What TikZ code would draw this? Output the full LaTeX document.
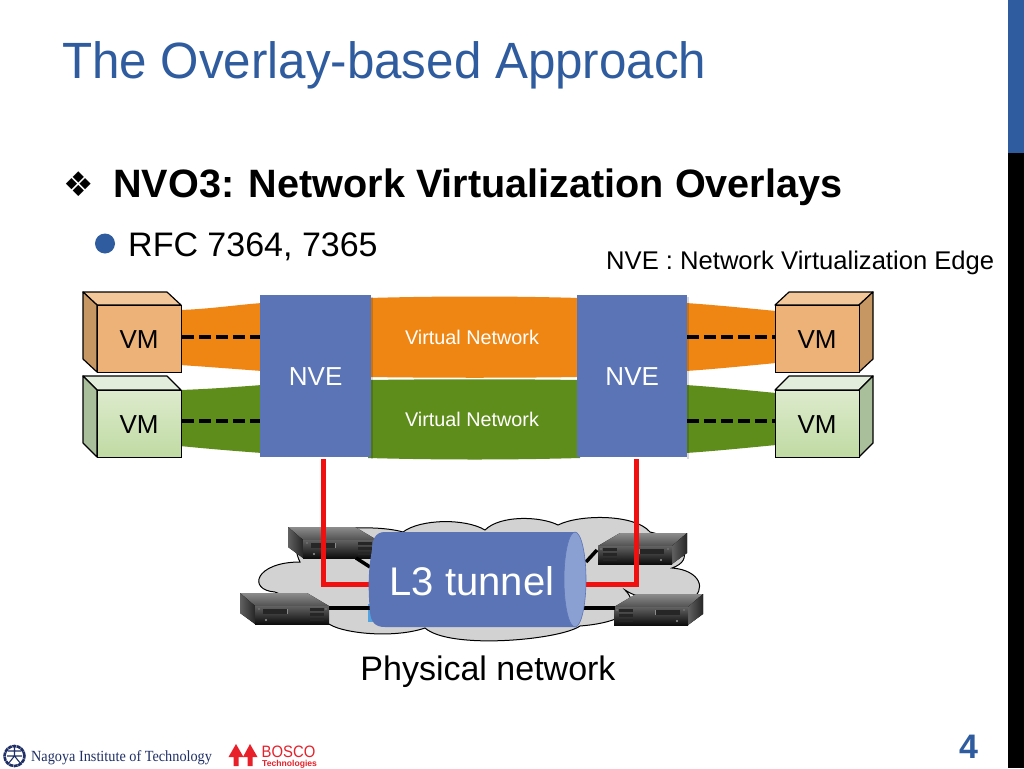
\documentclass[tikz,border=0pt]{standalone}
\usepackage{fontspec}
\setmainfont{Liberation Sans}
\newfontfamily\dejavu{DejaVu Sans}
\newfontfamily\serifface{Liberation Serif}
\usetikzlibrary{calc,shapes.geometric}
\definecolor{titleblue}{HTML}{2F5C9E}
\definecolor{nveblue}{HTML}{5B74B6}
\definecolor{capblue}{HTML}{8A9FD2}
\definecolor{bandorange}{HTML}{EF8613}
\definecolor{bandgreen}{HTML}{5F8D1B}
\definecolor{linkred}{HTML}{F01010}
\definecolor{cloudgrey}{HTML}{D2D2D2}
\definecolor{navy}{HTML}{1F2F66}
\definecolor{boscored}{HTML}{E8202A}
\definecolor{vmofront}{HTML}{EDB277}
\definecolor{vmotop}{HTML}{F2C79A}
\definecolor{vmoside}{HTML}{C69663}
\definecolor{vmgtopc}{HTML}{E3EDDB}
\definecolor{vmgside}{HTML}{A9BF9B}
\definecolor{vmgfronta}{HTML}{DDEBCD}
\definecolor{vmgfrontb}{HTML}{BFDAA2}
\tikzset{
  vmlabel/.style={font=\fontsize{26}{26}\selectfont,text=black,inner sep=0pt},
  nvebox/.style={fill=nveblue,draw=none,text=white,font=\fontsize{26}{26}\selectfont,inner sep=0pt,
     minimum height=162pt,anchor=north west,text depth=-1pt},
  vnlabel/.style={font=\fontsize{19.8}{20}\selectfont,text=white,inner sep=0pt},
  dashlink/.style={line width=4.5pt,black,dash pattern=on 12pt off 5pt},
  redlink/.style={line width=5pt,linkred,line join=miter},
  netlink/.style={line width=3.5pt,black},
  vmedge/.style={draw=black,line width=1.2pt,line join=round},
  vmfront/.style={draw=black,line width=1.2pt,minimum width=84pt,minimum height=67pt,inner sep=0pt,anchor=north west},
  vmorange/.style={vmfront,fill=vmofront},
  vmgreen/.style={vmfront,top color=vmgfronta,bottom color=vmgfrontb},
}
% \srvbox{shift x}{shift y}{xscale}{name}
\newcommand{\srvbox}[4]{%
  \begin{scope}[shift={(#1,#2)},xscale=#3]
    \fill[top color=black!45,bottom color=black!68] (0,0) -- (67,0) -- (89,13) -- (15,13) -- cycle;
    \fill[left color=black!62,right color=black!85] (0,0) -- (15,13) -- (15,31) -- (0,20) -- cycle;
    \fill[top color=black!62,bottom color=black!95] (15,13) -- (89,13) -- (89,31) -- (15,31) -- cycle;
    \fill[black!85] (23,16) rectangle (47,21);
    \fill[black!45] (47,16) rectangle (48,21);
    \fill[black!85] (70,15) rectangle (84,18);
    \fill[black!85] (70,20) rectangle (84,23);
    \fill[black!85] (70,25) rectangle (84,28);
    \fill[black!40] (26,27) circle (1.2);
    \fill[black!30] (19,16) circle (0.7);
    \fill[black!30] (86,16) circle (0.7);
    \coordinate (#4) at (52,22);
  \end{scope}
}
\begin{document}
\begin{tikzpicture}[x=1pt,y=-1pt]
\useasboundingbox (0,0) rectangle (1024,768);
\fill[white] (0,0) rectangle (1024,768);
% side bar
\fill[titleblue] (1008,0) rectangle (1024,153);
\fill[black] (1008,153) rectangle (1024,768);
% headings
\node[anchor=base west,inner sep=0pt,text=titleblue,font=\fontsize{51}{51}\selectfont,xscale=.967] (title) at (62,78) {The Overlay-based Approach};
\node[anchor=base west,inner sep=0pt,text=black,font=\dejavu\fontsize{34}{34}\selectfont] (mark) at (63,196.5) {❖};
\node[anchor=base west,inner sep=0pt,font=\bfseries\fontsize{39.6}{39}\selectfont] (head) at (113,197) {NVO3: Network Virtualization Overlays};
\node[circle,fill=titleblue,minimum size=20pt,inner sep=0pt] (dot) at (105,243.5) {};
\node[anchor=base west,inner sep=0pt,font=\fontsize{34}{34}\selectfont] (rfc) at (128,256) {RFC 7364, 7365};
\node[anchor=base west,inner sep=0pt,font=\fontsize{25.6}{26}\selectfont] (legend) at (606,269) {NVE : Network Virtualization Edge};
% bands
\fill[bandorange] (180,310) .. controls (210,309) and (235,305) .. (262,303) -- (262,371) .. controls (235,369) and (210,367) .. (180,365) -- cycle;
\fill[bandgreen] (180,390) .. controls (210,389) and (235,387) .. (262,385) -- (262,453) .. controls (235,451) and (210,449) .. (180,446) -- cycle;
\fill[bandorange] (686,303) .. controls (715,305) and (745,308) .. (776,311) -- (776,363) .. controls (745,366) and (715,369) .. (686,371) -- cycle;
\fill[bandgreen] (686,385) .. controls (715,387) and (745,390) .. (776,393) -- (776,445) .. controls (745,448) and (715,451) .. (686,453) -- cycle;
\fill[bandorange] (368,298) .. controls (440,296) and (510,296) .. (580,298) -- (580,377) .. controls (510,378) and (440,378) .. (368,377) -- cycle;
\fill[bandgreen] (368,380) .. controls (440,379) and (510,379) .. (580,380) -- (580,458) .. controls (510,460) and (440,460) .. (368,458) -- cycle;
\node[vnlabel] (vn1) at (472,337) {Virtual Network};
\node[vnlabel] (vn2) at (472,419) {Virtual Network};
% NVE boxes
\fill[black,opacity=.15] (371,297) rectangle (373,459);
\fill[black,opacity=.15] (687,297) rectangle (689,459);
\node[nvebox,minimum width=111pt] (nveL) at (260,295) {NVE};
\node[nvebox,minimum width=110pt] (nveR) at (577,295) {NVE};
% VM boxes
\path[vmedge,fill=vmotop] (97,305) -- (83,292) -- (167,292) -- (181,305) -- cycle;
\path[vmedge,fill=vmoside] (97,305) -- (83,292) -- (83,359) -- (97,372) -- cycle;
\node[vmorange] (vmA) at (97,305) {};
\node[vmlabel] (vmAt) at (139,340) {VM};
\path[vmedge,fill=vmgtopc] (97,390) -- (83,376) -- (167,376) -- (181,390) -- cycle;
\path[vmedge,fill=vmgside] (97,390) -- (83,376) -- (83,443) -- (97,457) -- cycle;
\node[vmgreen] (vmB) at (97,390) {};
\node[vmlabel] (vmBt) at (139,425) {VM};
\path[vmedge,fill=vmotop] (859,305) -- (873,292) -- (789,292) -- (775,305) -- cycle;
\path[vmedge,fill=vmoside] (859,305) -- (873,292) -- (873,359) -- (859,372) -- cycle;
\node[vmorange] (vmC) at (775,305) {};
\node[vmlabel] (vmCt) at (817,340) {VM};
\path[vmedge,fill=vmgtopc] (859,390) -- (873,376) -- (789,376) -- (775,390) -- cycle;
\path[vmedge,fill=vmgside] (859,390) -- (873,376) -- (873,443) -- (859,457) -- cycle;
\node[vmgreen] (vmD) at (775,390) {};
\node[vmlabel] (vmDt) at (817,425) {VM};
% dashed links
\draw[dashlink] (vmA.east |- 0,337) -- (nveL.west |- 0,337);
\draw[dashlink] (vmB.east |- 0,421) -- (nveL.west |- 0,421);
\draw[dashlink] (nveR.east |- 0,337) -- (vmC.west |- 0,337);
\draw[dashlink] (nveR.east |- 0,421) -- (vmD.west |- 0,421);
% cloud
\draw[fill=cloudgrey,line width=1pt] (300,562)
  .. controls (295,552) and (296,545) .. (300,540)
  .. controls (315,528) and (375,524) .. (403,532)
  .. controls (420,519) and (465,518) .. (485,530)
  .. controls (500,515) and (540,516) .. (558,525)
  .. controls (580,514) and (635,514) .. (650,532)
  .. controls (685,540) and (695,560) .. (672,568)
  .. controls (700,570) and (708,590) .. (690,600)
  .. controls (670,605) and (640,600) .. (625,590)
  .. controls (640,605) and (630,622) .. (580,626)
  .. controls (560,640) and (450,650) .. (425,628)
  .. controls (390,640) and (330,632) .. (325,620)
  .. controls (310,610) and (295,600) .. (275,592)
  .. controls (247,590) and (255,562) .. (300,562) -- cycle;
% cyan fragment
\fill[cyan!70!blue!70!white] (368,604) rectangle (380,622);
% servers and network links
\srvbox{288}{527}{1}{srvA}
\srvbox{240}{593}{1}{srvB}
\srvbox{687}{533}{-1}{srvC}
\srvbox{703}{594}{-1}{srvD}
\coordinate (tunAL) at (370,567);
\coordinate (srvAL) at (356,558);
\coordinate (srvBL) at (329,608);
\coordinate (tunBL) at (372,608);
\coordinate (tunCL) at (586,562);
\coordinate (srvCL) at (597,550);
\coordinate (tunDL) at (584,608);
\coordinate (srvDL) at (615,608);
\draw[netlink] (srvAL) -- (tunAL);
\draw[netlink] (srvBL) -- (tunBL);
\draw[netlink] (tunCL) -- (srvCL);
\draw[netlink] (tunDL) -- (srvDL);
% red links
\coordinate (redLa) at (323,459);
\coordinate (redLb) at (323,584);
\coordinate (redLc) at (375,584);
\coordinate (redRa) at (636,459);
\coordinate (redRb) at (636,584);
\coordinate (redRc) at (582,584);
\draw[redlink] (redLa) -- (redLb) -- (redLc);
\draw[redlink] (redRa) -- (redRb) -- (redRc);
% tunnel
\fill[nveblue] (576,532) -- (385,532) .. controls (375,532) and (372,540) .. (372,550)
  .. controls (368,570) and (368,590) .. (370,612) .. controls (371,622) and (375,627) .. (385,627) -- (576,627) -- cycle;
\node[ellipse,fill=capblue,draw=nveblue,line width=.6pt,minimum width=22pt,minimum height=95pt,inner sep=0pt] (cap) at (575,579.5) {};
\node[text=white,inner sep=0pt,font=\fontsize{40}{40}\selectfont] (tunnel) at (472,581) {L3 tunnel};
\node[inner sep=0pt,font=\fontsize{34}{34}\selectfont] (phys) at (488,672) {Physical network};
% footer
\node[inner sep=0pt,anchor=center,text=titleblue,font=\bfseries\fontsize{34}{34}\selectfont] (page) at (968.5,746.5) {4};
\node[circle,draw=navy,line width=2.6pt,dash pattern=on 4pt off .6pt,minimum size=20pt,inner sep=0pt] (seal) at (14.5,756) {};
\draw[navy,line width=1.1pt] (8,751) -- (21,751) (7,756) -- (22,756) (14.5,747) -- (14.5,756)
  (14.5,756) -- (8,764) (14.5,756) -- (21,764);
\node[anchor=base west,inner sep=0pt,text=navy,font=\serifface\fontsize{15.5}{15}\selectfont,xscale=.92] (nit) at (31,761) {Nagoya Institute of Technology};
\fill[boscored] (233.5,766) -- (233.5,757) -- (228.5,757) -- (236,744) -- (243.5,757) -- (238.5,757) -- (238.5,766) -- cycle;
\fill[boscored] (247.5,766) -- (247.5,757) -- (243,757) -- (250,744) -- (257.5,757) -- (252.5,757) -- (252.5,766) -- cycle;
\node[anchor=base west,inner sep=0pt,text=boscored,font=\fontsize{16.5}{16}\selectfont,xscale=.9] (bosco) at (261.5,757) {BOSCO};
\node[anchor=base west,inner sep=0pt,text=boscored,font=\bfseries\fontsize{8.6}{9}\selectfont] (btech) at (262,766.5) {Technologies};
\end{tikzpicture}
\end{document}
